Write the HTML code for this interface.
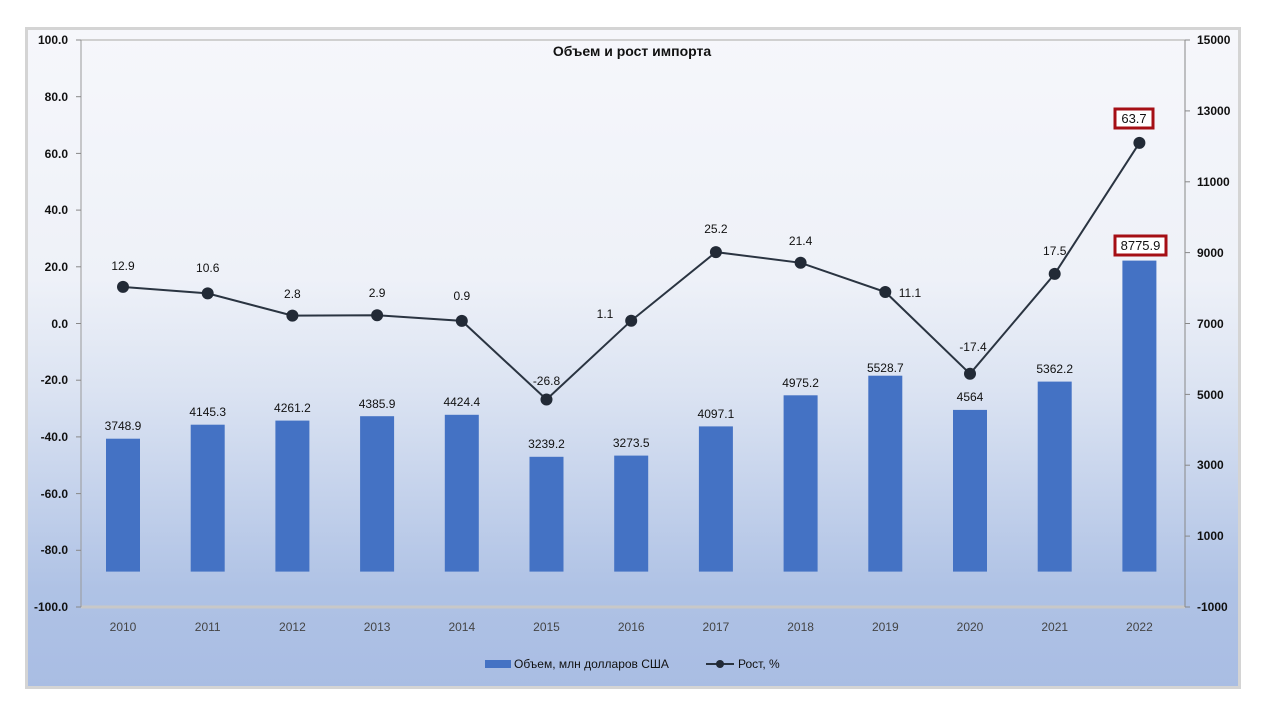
<!DOCTYPE html>
<html><head><meta charset="utf-8"><style>
body{margin:0;background:#fff;}
svg{display:block;font-family:"Liberation Sans","DejaVu Sans",sans-serif;}
</style></head><body>
<svg width="1280" height="720" viewBox="0 0 1280 720">
<defs>
<linearGradient id="bg" x1="0" y1="0" x2="0" y2="1">
<stop offset="0" stop-color="#f6f7fb"/>
<stop offset="0.38" stop-color="#eef1f8"/>
<stop offset="0.55" stop-color="#dbe3f2"/>
<stop offset="0.85" stop-color="#afc2e5"/>
<stop offset="1" stop-color="#a9bde3"/>
</linearGradient>
</defs>
<rect x="26.5" y="28.5" width="1213" height="659" fill="url(#bg)" stroke="#d4d4d4" stroke-width="3"/>
<!-- plot frame -->
<line x1="81" y1="40" x2="1185" y2="40" stroke="#d0d0d0" stroke-width="2"/>
<line x1="81" y1="607" x2="1185" y2="607" stroke="#c8c8c8" stroke-width="3"/>
<line x1="81" y1="40" x2="81" y2="607" stroke="#999" stroke-width="1"/>
<line x1="1185" y1="40" x2="1185" y2="607" stroke="#888" stroke-width="1"/>
<g stroke="#888" stroke-width="1">
<line x1="76" y1="40" x2="81" y2="40"/><line x1="76" y1="96.7" x2="81" y2="96.7"/><line x1="76" y1="153.4" x2="81" y2="153.4"/><line x1="76" y1="210.1" x2="81" y2="210.1"/><line x1="76" y1="266.8" x2="81" y2="266.8"/><line x1="76" y1="323.5" x2="81" y2="323.5"/><line x1="76" y1="380.2" x2="81" y2="380.2"/><line x1="76" y1="436.9" x2="81" y2="436.9"/><line x1="76" y1="493.6" x2="81" y2="493.6"/><line x1="76" y1="550.3" x2="81" y2="550.3"/><line x1="76" y1="607" x2="81" y2="607"/>
<line x1="1185" y1="40" x2="1190" y2="40"/><line x1="1185" y1="110.9" x2="1190" y2="110.9"/><line x1="1185" y1="181.8" x2="1190" y2="181.8"/><line x1="1185" y1="252.6" x2="1190" y2="252.6"/><line x1="1185" y1="323.5" x2="1190" y2="323.5"/><line x1="1185" y1="394.4" x2="1190" y2="394.4"/><line x1="1185" y1="465.2" x2="1190" y2="465.2"/><line x1="1185" y1="536.1" x2="1190" y2="536.1"/><line x1="1185" y1="607" x2="1190" y2="607"/>
</g>
<g font-size="12" font-weight="bold" fill="#111" text-anchor="end">
<text x="68" y="44">100.0</text><text x="68" y="101">80.0</text><text x="68" y="158">60.0</text><text x="68" y="214">40.0</text><text x="68" y="271">20.0</text><text x="68" y="328">0.0</text><text x="68" y="384">-20.0</text><text x="68" y="441">-40.0</text><text x="68" y="498">-60.0</text><text x="68" y="554">-80.0</text><text x="68" y="611">-100.0</text>
</g>
<g font-size="12" font-weight="bold" fill="#111" text-anchor="start">
<text x="1197" y="44">15000</text><text x="1197" y="115">13000</text><text x="1197" y="186">11000</text><text x="1197" y="257">9000</text><text x="1197" y="328">7000</text><text x="1197" y="399">5000</text><text x="1197" y="469">3000</text><text x="1197" y="540">1000</text><text x="1197" y="611">-1000</text>
</g>
<text x="632" y="56" font-size="14" font-weight="bold" text-anchor="middle" fill="#111">Объем и рост импорта</text>
<!-- bars -->
<g fill="#4472c4">
<rect x="106" y="438.7" width="34" height="132.9"/>
<rect x="190.7" y="424.7" width="34" height="146.9"/>
<rect x="275.4" y="420.6" width="34" height="151"/>
<rect x="360.1" y="416.2" width="34" height="155.4"/>
<rect x="444.8" y="414.8" width="34" height="156.8"/>
<rect x="529.5" y="456.8" width="34" height="114.8"/>
<rect x="614.2" y="455.6" width="34" height="116"/>
<rect x="698.9" y="426.4" width="34" height="145.2"/>
<rect x="783.6" y="395.3" width="34" height="176.3"/>
<rect x="868.3" y="375.7" width="34" height="195.9"/>
<rect x="953" y="409.9" width="34" height="161.7"/>
<rect x="1037.7" y="381.6" width="34" height="190"/>
<rect x="1122.4" y="260.6" width="34" height="311"/>
</g>
<g font-size="12" fill="#111" text-anchor="middle">
<text x="123" y="430">3748.9</text><text x="207.7" y="416">4145.3</text><text x="292.4" y="412">4261.2</text><text x="377.1" y="408">4385.9</text><text x="461.8" y="406">4424.4</text><text x="546.5" y="448">3239.2</text><text x="631.2" y="447">3273.5</text><text x="715.9" y="418">4097.1</text><text x="800.6" y="387">4975.2</text><text x="885.3" y="372">5528.7</text><text x="970" y="401">4564</text><text x="1054.7" y="373">5362.2</text>
</g>
<!-- line -->
<polyline fill="none" stroke="#2a3441" stroke-width="2" points="123,286.9 207.7,293.4 292.4,315.6 377.1,315.3 461.8,320.9 546.5,399.5 631.2,320.7 715.9,252.1 800.6,262.8 885.3,292 970,373.8 1054.7,273.9 1139.4,142.9"/>
<g fill="#222a36">
<circle cx="123" cy="286.9" r="6"/><circle cx="207.7" cy="293.4" r="6"/><circle cx="292.4" cy="315.6" r="6"/><circle cx="377.1" cy="315.3" r="6"/><circle cx="461.8" cy="320.9" r="6"/><circle cx="546.5" cy="399.5" r="6"/><circle cx="631.2" cy="320.7" r="6"/><circle cx="715.9" cy="252.1" r="6"/><circle cx="800.6" cy="262.8" r="6"/><circle cx="885.3" cy="292" r="6"/><circle cx="970" cy="373.8" r="6"/><circle cx="1054.7" cy="273.9" r="6"/><circle cx="1139.4" cy="142.9" r="6"/>
</g>
<g font-size="12" fill="#111" text-anchor="middle">
<text x="123" y="270">12.9</text><text x="207.7" y="272">10.6</text><text x="292.4" y="298">2.8</text><text x="377.1" y="297">2.9</text><text x="461.8" y="300">0.9</text><text x="546.5" y="385">-26.8</text><text x="605" y="318">1.1</text><text x="715.9" y="233">25.2</text><text x="800.6" y="245">21.4</text><text x="910" y="297">11.1</text><text x="973" y="351">-17.4</text><text x="1054.7" y="255">17.5</text>
</g>
<rect x="1115" y="109" width="38" height="19" fill="#fff" stroke="#a50f15" stroke-width="3"/>
<text x="1134" y="123" font-size="13" text-anchor="middle" fill="#111">63.7</text>
<rect x="1115" y="236" width="51" height="19" fill="#fff" stroke="#a50f15" stroke-width="3"/>
<text x="1140.5" y="250" font-size="13" text-anchor="middle" fill="#111">8775.9</text>
<!-- x labels -->
<g font-size="12" fill="#444" text-anchor="middle">
<text x="123" y="631">2010</text><text x="207.7" y="631">2011</text><text x="292.4" y="631">2012</text><text x="377.1" y="631">2013</text><text x="461.8" y="631">2014</text><text x="546.5" y="631">2015</text><text x="631.2" y="631">2016</text><text x="715.9" y="631">2017</text><text x="800.6" y="631">2018</text><text x="885.3" y="631">2019</text><text x="970" y="631">2020</text><text x="1054.7" y="631">2021</text><text x="1139.4" y="631">2022</text>
</g>
<!-- legend -->
<rect x="485" y="660" width="26" height="8" fill="#4472c4"/>
<text x="514" y="668" font-size="12" fill="#111">Объем, млн долларов США</text>
<line x1="706" y1="664" x2="734" y2="664" stroke="#2a3441" stroke-width="2"/>
<circle cx="720" cy="664" r="4" fill="#222a36"/>
<text x="738" y="668" font-size="12" fill="#111">Рост, %</text>
</svg>
</body></html>
